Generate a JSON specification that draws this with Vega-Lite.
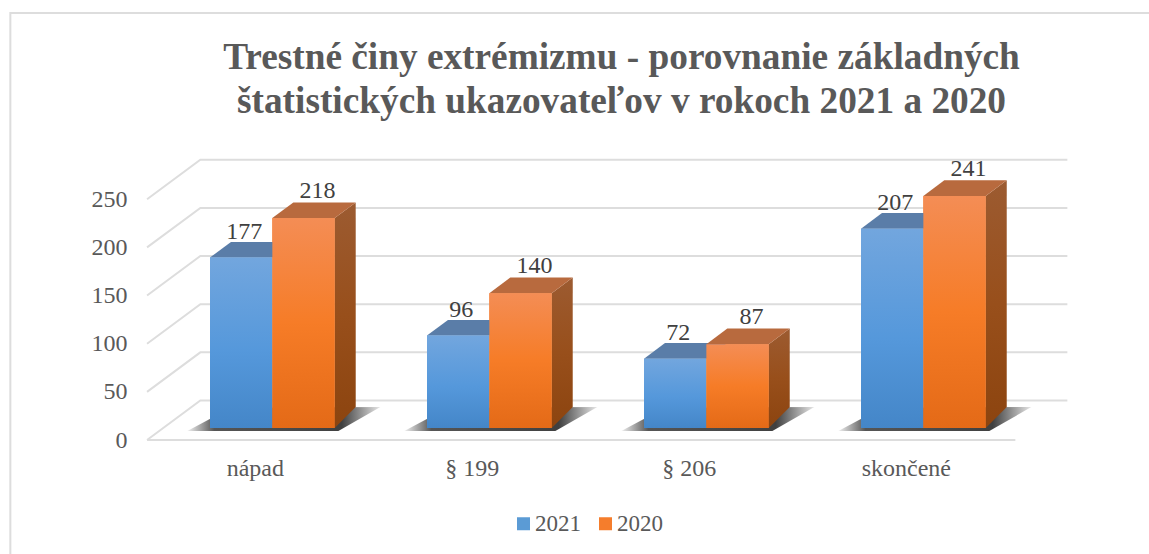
{
"$schema":"https://vega.github.io/schema/vega-lite/v6.json",
"width":1149,"height":554,"padding":0,"autosize":{"type":"none"},
"background":"white",
"config":{"view":{"stroke":null},"font":"Liberation Serif",
"axisX":{"offset":-98,"domain":false,"ticks":false,"grid":false,"labelAngle":0,"labelPadding":0,"labelOffset":-17,"labelFontSize":24,"labelColor":"#595959","labelFont":"Liberation Serif","labelBaseline":"top"},
"axisY":{"offset":-127,"domain":false,"ticks":false,"grid":false,"labelPadding":0,"labelOffset":12,"labelFontSize":24,"labelColor":"#595959","labelFont":"Liberation Serif"}},
"title":{"text":["Trestné činy extrémizmu - porovnanie základných","štatistických ukazovateľov v rokoch 2021 a 2020"],"font":"Liberation Serif","fontSize":37.3,"fontWeight":"bold","color":"#595959","anchor":"middle","frame":"group","dx":47,"orient":"top","baseline":"top","offset":-121,"lineHeight":44},
"datasets":{
"bars":[
{"cat":"nápad","series":"2021","value":177},{"cat":"nápad","series":"2020","value":218},
{"cat":"§ 199","series":"2021","value":96},{"cat":"§ 199","series":"2020","value":140},
{"cat":"§ 206","series":"2021","value":72},{"cat":"§ 206","series":"2020","value":87},
{"cat":"skončené","series":"2021","value":207},{"cat":"skončené","series":"2020","value":241}],
"ticks":[{"tick":0},{"tick":50},{"tick":100},{"tick":150},{"tick":200},{"tick":250}],
"cats":[{"cat":"nápad"},{"cat":"§ 199"},{"cat":"§ 206"},{"cat":"skončené"}]
},
"resolve":{"scale":{"x":"shared","y":"shared"}},
"layer":[
{"data":{"name":"ticks"},
 "mark":{"type":"point","filled":false,"opacity":1,"size":4,"stroke":"#DDDDDD","strokeWidth":2,"shape":"M-125.3,12L-72,-27.5L795,-27.5"},
 "encoding":{"x":{"datum":"nápad","type":"nominal","title":null},
 "y":{"field":"tick","type":"quantitative","title":null,"axis":{"values":[0,50,100,150,200,250]}}}},
{"data":{"values":[{"tick":0}]},
 "mark":{"type":"point","filled":false,"opacity":1,"size":4,"stroke":"#DDDDDD","strokeWidth":2,"shape":"M-125.3,12L743,12"},
 "encoding":{"x":{"datum":"nápad","type":"nominal","title":null},
 "y":{"field":"tick","type":"quantitative","title":null}}},
{"data":{"values":[{"tick":0}]},
 "mark":{"type":"point","filled":false,"opacity":1,"size":4,"stroke":"#DDDDDD","strokeWidth":2,"shape":"M-262,126L-262,-415L877,-415"},
 "encoding":{"x":{"datum":"nápad","type":"nominal","title":null},
 "y":{"field":"tick","type":"quantitative","title":null}}},
{"data":{"name":"cats"},
 "mark":{"type":"point","filled":true,"opacity":1,"size":4,"shape":"M-85,3L-42,-20L108,-21L66,3Z",
 "fill":{"gradient":"linear","x1":0,"y1":0,"x2":1,"y2":0,"stops":[{"offset":0,"color":"#F0F0F0"},{"offset":0.14,"color":"#555555"},{"offset":0.8,"color":"#404040"},{"offset":1,"color":"#E8E8E8"}]}},
 "encoding":{"x":{"field":"cat","type":"nominal","title":null},
 "y":{"datum":0,"type":"quantitative","title":null}}},
{"data":{"name":"bars"},
 "mark":{"type":"bar"},
 "encoding":{
 "x":{"field":"cat","type":"nominal","sort":["nápad","§ 199","§ 206","skončené"],"title":null,
  "scale":{"domain":["nápad","§ 199","§ 206","skončené"],"range":[210,985.7],"paddingInner":0.4254,"paddingOuter":0}},
 "xOffset":{"field":"series","type":"nominal","scale":{"domain":["2021","2020"],"paddingInner":0,"paddingOuter":0}},
 "y":{"field":"value","type":"quantitative","title":null,
  "scale":{"domain":[0,250],"range":[428,187.25],"nice":false}},
 "color":{"field":"series","type":"nominal","scale":{"domain":["2021","2020"],"range":["#5B9BD5","#F57D2C"]},
  "legend":{"orient":"none","legendX":512,"legendY":512,"direction":"horizontal","title":null,"symbolType":"square","symbolSize":169,"symbolStrokeWidth":0,"labelFontSize":23,"labelColor":"#595959","labelFont":"Liberation Serif","labelOffset":0,"columnPadding":13,"symbolOffset":0}}}},
{"data":{"name":"bars"},"transform":[{"filter":"datum.series=='2021'"}],
 "mark":{"type":"point","filled":true,"opacity":1,"size":4,"fill":"#5A7DA8","shape":"M-31.2,0L-10.2,-15.6L52.2,-15.6L31.2,0Z"},
 "encoding":{"x":{"field":"cat","type":"nominal","title":null},"xOffset":{"field":"series","type":"nominal"},"y":{"field":"value","type":"quantitative","title":null}}},
{"data":{"name":"bars"},"transform":[{"filter":"datum.series=='2021'"}],
 "mark":{"type":"bar","fill":{"gradient":"linear","x1":0,"y1":0,"x2":0,"y2":1,"stops":[{"offset":0,"color":"#72A6DE"},{"offset":0.55,"color":"#5598DB"},{"offset":1,"color":"#4486C8"}]}},
 "encoding":{"x":{"field":"cat","type":"nominal","title":null},"xOffset":{"field":"series","type":"nominal"},"y":{"field":"value","type":"quantitative","title":null}}},
{"data":{"name":"bars"},"transform":[{"filter":"datum.series=='2020'"}],
 "mark":{"type":"point","filled":true,"opacity":1,"size":4,"fill":{"gradient":"linear","x1":0,"y1":0,"x2":0,"y2":1,"stops":[{"offset":0,"color":"#9C5B31"},{"offset":0.5,"color":"#984F1B"},{"offset":1,"color":"#8C440F"}]}},
 "encoding":{"x":{"field":"cat","type":"nominal","title":null},"xOffset":{"field":"series","type":"nominal"},"y":{"field":"value","type":"quantitative","title":null},
 "shape":{"field":"value","type":"nominal","legend":null,"scale":{"domain":[218,140,87,241],"range":["M31.2,0L52.2,-15.6L52.2,188.9L31.2,209.9Z","M31.2,0L52.2,-15.6L52.2,113.8L31.2,134.8Z","M31.2,0L52.2,-15.6L52.2,62.8L31.2,83.8Z","M31.2,0L52.2,-15.6L52.2,211.1L31.2,232.1Z"]}}}},
{"data":{"name":"bars"},"transform":[{"filter":"datum.series=='2020'"}],
 "mark":{"type":"point","filled":true,"opacity":1,"size":4,"fill":"#B86A3E","shape":"M-31.2,0L-10.2,-15.6L52.2,-15.6L31.2,0Z"},
 "encoding":{"x":{"field":"cat","type":"nominal","title":null},"xOffset":{"field":"series","type":"nominal"},"y":{"field":"value","type":"quantitative","title":null}}},
{"data":{"name":"bars"},"transform":[{"filter":"datum.series=='2020'"}],
 "mark":{"type":"bar","fill":{"gradient":"linear","x1":0,"y1":0,"x2":0,"y2":1,"stops":[{"offset":0,"color":"#F48D55"},{"offset":0.5,"color":"#F67C27"},{"offset":1,"color":"#E46A17"}]}},
 "encoding":{"x":{"field":"cat","type":"nominal","title":null},"xOffset":{"field":"series","type":"nominal"},"y":{"field":"value","type":"quantitative","title":null}}},
{"data":{"name":"bars"},"transform":[{"filter":"datum.series=='2021'"}],
 "mark":{"type":"text","font":"Liberation Serif","fontSize":24,"color":"#404040","dx":3,"dy":-26,"baseline":"middle"},
 "encoding":{"x":{"field":"cat","type":"nominal","title":null},"xOffset":{"field":"series","type":"nominal"},"y":{"field":"value","type":"quantitative","title":null},"text":{"field":"value","type":"quantitative"}}},
{"data":{"name":"bars"},"transform":[{"filter":"datum.series=='2020'"}],
 "mark":{"type":"text","font":"Liberation Serif","fontSize":24,"color":"#404040","dx":14,"dy":-27,"baseline":"middle"},
 "encoding":{"x":{"field":"cat","type":"nominal","title":null},"xOffset":{"field":"series","type":"nominal"},"y":{"field":"value","type":"quantitative","title":null},"text":{"field":"value","type":"quantitative"}}}
]
}
